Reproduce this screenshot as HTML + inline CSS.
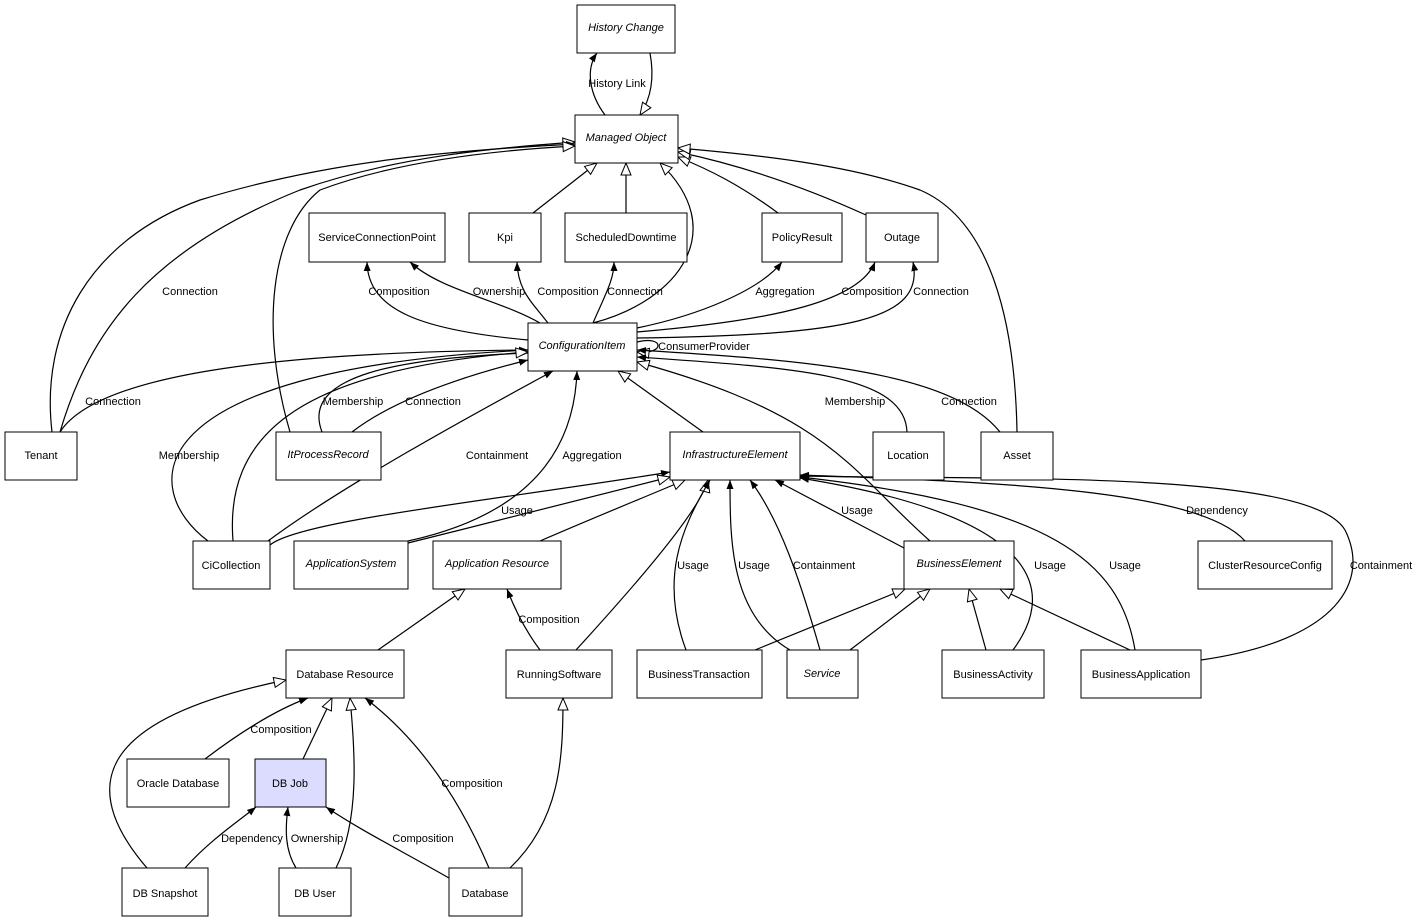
<!DOCTYPE html>
<html><head><meta charset="utf-8"><style>
body{margin:0;background:#fff}
svg{display:block}
text{font-family:"Liberation Sans",Arial,sans-serif;font-size:11px;fill:#000}
.n{fill:#fff;stroke:#000;stroke-width:1}
.e{fill:none;stroke:#000;stroke-width:1.2}
</style></head><body>
<svg width="1419" height="924" viewBox="0 0 1419 924">
<defs>
<marker id="h" markerWidth="14" markerHeight="12" refX="13" refY="6" orient="auto" markerUnits="userSpaceOnUse"><path d="M1,1 L13,6 L1,11 Z" fill="#fff" stroke="#000"/></marker>
<marker id="f" markerWidth="10" markerHeight="8" refX="9" refY="4" orient="auto" markerUnits="userSpaceOnUse"><path d="M0,0.5 L9,4 L0,7.5 Z" fill="#000"/></marker>
</defs>
<g class="e">
<path d="M605,115 C590,95 585,70 597,53" marker-end="url(#f)"/>
<path d="M650,53 C655,80 650,100 640,115" marker-end="url(#h)"/>
<path d="M533,213 L597,163" marker-end="url(#h)"/>
<path d="M626,213 L626,163" marker-end="url(#h)"/>
<path d="M778,213 C740,185 710,170 678,157" marker-end="url(#h)"/>
<path d="M866,215 C800,185 740,165 678,152" marker-end="url(#h)"/>
<path d="M1017,432 C1015,320 990,220 920,190 C850,165 760,155 678,148" marker-end="url(#h)"/>
<path d="M593,323 C680,300 730,230 660,163" marker-end="url(#h)"/>
<path d="M60,432 C90,330 150,250 300,190 C400,155 500,148 575,142" marker-end="url(#h)"/>
<path d="M52,432 C40,330 90,240 200,200 C330,160 460,150 575,144" marker-end="url(#f)"/>
<path d="M290,432 C260,330 270,230 320,190 C400,160 500,150 575,146" marker-end="url(#h)"/>
<path d="M528,340 C420,330 368,310 367,262" marker-end="url(#f)"/>
<path d="M540,323 C500,300 440,290 410,262" marker-end="url(#f)"/>
<path d="M548,323 C530,300 518,290 517,262" marker-end="url(#f)"/>
<path d="M593,323 C605,295 614,280 614,262" marker-end="url(#f)"/>
<path d="M637,328 C700,315 760,290 782,262" marker-end="url(#f)"/>
<path d="M637,332 C780,320 860,300 875,262" marker-end="url(#f)"/>
<path d="M637,338 C850,335 925,320 913,262" marker-end="url(#f)"/>
<path d="M637,342 C665,335 665,355 637,352" marker-end="url(#h)"/>
<path d="M60,432 C100,370 300,352 528,350" marker-end="url(#f)"/>
<path d="M352,432 C400,395 480,372 528,360" marker-end="url(#f)"/>
<path d="M322,432 C300,375 400,358 528,353" marker-end="url(#f)"/>
<path d="M208,541 C140,490 130,370 528,350" marker-end="url(#f)"/>
<path d="M233,541 C225,440 290,370 528,352" marker-end="url(#h)"/>
<path d="M268,541 C350,480 500,400 553,371" marker-end="url(#f)"/>
<path d="M408,541 C550,510 575,430 577,371" marker-end="url(#f)"/>
<path d="M703,432 L618,371" marker-end="url(#h)"/>
<path d="M907,432 C905,375 800,368 637,357" marker-end="url(#f)"/>
<path d="M1000,432 C950,370 800,360 637,350" marker-end="url(#f)"/>
<path d="M930,541 C850,470 830,415 637,362" marker-end="url(#h)"/>
<path d="M270,545 C300,520 500,500 670,472" marker-end="url(#f)"/>
<path d="M408,543 C500,520 600,495 670,477" marker-end="url(#h)"/>
<path d="M540,541 C600,515 650,495 685,480" marker-end="url(#h)"/>
<path d="M576,650 C640,580 700,510 708,480" marker-end="url(#h)"/>
<path d="M686,650 C660,580 680,530 710,480" marker-end="url(#f)"/>
<path d="M790,650 C730,615 730,540 730,480" marker-end="url(#f)"/>
<path d="M820,650 C800,580 780,520 750,480" marker-end="url(#f)"/>
<path d="M904,548 L775,480" marker-end="url(#f)"/>
<path d="M1013,650 C1050,600 1060,520 800,478" marker-end="url(#f)"/>
<path d="M1135,650 C1120,560 1050,505 800,477" marker-end="url(#f)"/>
<path d="M1201,660 C1340,640 1370,580 1345,530 C1310,470 1000,480 800,476" marker-end="url(#f)"/>
<path d="M1245,541 C1200,490 1000,482 800,475" marker-end="url(#f)"/>
<path d="M755,650 L905,589" marker-end="url(#h)"/>
<path d="M850,650 L930,589" marker-end="url(#h)"/>
<path d="M986,650 L969,589" marker-end="url(#h)"/>
<path d="M1130,650 L1000,589" marker-end="url(#h)"/>
<path d="M378,650 L465,589" marker-end="url(#h)"/>
<path d="M540,650 C525,630 515,610 507,589" marker-end="url(#f)"/>
<path d="M205,759 C230,740 270,712 308,698" marker-end="url(#f)"/>
<path d="M303,759 L332,698" marker-end="url(#h)"/>
<path d="M336,868 C360,820 355,750 350,698" marker-end="url(#h)"/>
<path d="M147,868 C80,790 90,720 286,680" marker-end="url(#h)"/>
<path d="M489,868 C460,800 420,740 365,698" marker-end="url(#f)"/>
<path d="M510,868 C560,820 563,760 563,698" marker-end="url(#h)"/>
<path d="M185,868 C210,840 240,820 256,807" marker-end="url(#f)"/>
<path d="M296,868 C285,850 285,830 288,807" marker-end="url(#f)"/>
<path d="M449,878 C400,850 360,830 326,807" marker-end="url(#f)"/>
</g>
<g>
<rect class="n" x="577" y="5" width="98" height="48"/>
<rect class="n" x="575" y="115" width="103" height="48"/>
<rect class="n" x="309" y="213" width="136" height="49"/>
<rect class="n" x="469" y="213" width="72" height="49"/>
<rect class="n" x="565" y="213" width="122" height="49"/>
<rect class="n" x="762" y="213" width="80" height="49"/>
<rect class="n" x="866" y="213" width="72" height="49"/>
<rect class="n" x="528" y="323" width="109" height="48"/>
<rect class="n" x="5" y="432" width="72" height="48"/>
<rect class="n" x="276" y="432" width="105" height="48"/>
<rect class="n" x="670" y="432" width="130" height="48"/>
<rect class="n" x="873" y="432" width="71" height="48"/>
<rect class="n" x="981" y="432" width="72" height="48"/>
<rect class="n" x="193" y="541" width="77" height="48"/>
<rect class="n" x="294" y="541" width="114" height="48"/>
<rect class="n" x="433" y="541" width="128" height="48"/>
<rect class="n" x="904" y="541" width="110" height="48"/>
<rect class="n" x="1198" y="541" width="134" height="48"/>
<rect class="n" x="286" y="650" width="118" height="48"/>
<rect class="n" x="506" y="650" width="106" height="48"/>
<rect class="n" x="637" y="650" width="125" height="48"/>
<rect class="n" x="787" y="650" width="71" height="48"/>
<rect class="n" x="942" y="650" width="102" height="48"/>
<rect class="n" x="1081" y="650" width="120" height="48"/>
<rect class="n" x="127" y="759" width="102" height="48"/>
<rect class="n" x="255" y="759" width="71" height="48" style="fill:#dcdcff"/>
<rect class="n" x="122" y="868" width="86" height="48"/>
<rect class="n" x="279" y="868" width="72" height="48"/>
<rect class="n" x="449" y="868" width="73" height="48"/>
</g>
<g text-anchor="middle">
<text x="626" y="31" font-style="italic">History Change</text>
<text x="626" y="141" font-style="italic">Managed Object</text>
<text x="377" y="241">ServiceConnectionPoint</text>
<text x="505" y="241">Kpi</text>
<text x="626" y="241">ScheduledDowntime</text>
<text x="802" y="241">PolicyResult</text>
<text x="902" y="241">Outage</text>
<text x="582" y="349" font-style="italic">ConfigurationItem</text>
<text x="41" y="459">Tenant</text>
<text x="328" y="458" font-style="italic">ItProcessRecord</text>
<text x="735" y="458" font-style="italic">InfrastructureElement</text>
<text x="908" y="459">Location</text>
<text x="1017" y="459">Asset</text>
<text x="231" y="569">CiCollection</text>
<text x="351" y="567" font-style="italic">ApplicationSystem</text>
<text x="497" y="567" font-style="italic">Application Resource</text>
<text x="959" y="567" font-style="italic">BusinessElement</text>
<text x="1265" y="569">ClusterResourceConfig</text>
<text x="345" y="678">Database Resource</text>
<text x="559" y="678">RunningSoftware</text>
<text x="699" y="678">BusinessTransaction</text>
<text x="822" y="677" font-style="italic">Service</text>
<text x="993" y="678">BusinessActivity</text>
<text x="1141" y="678">BusinessApplication</text>
<text x="178" y="787">Oracle Database</text>
<text x="290" y="787">DB Job</text>
<text x="165" y="897">DB Snapshot</text>
<text x="315" y="897">DB User</text>
<text x="485" y="897">Database</text>
</g>
<g text-anchor="middle">
<text x="617" y="87">History Link</text>
<text x="190" y="295">Connection</text>
<text x="399" y="295">Composition</text>
<text x="499" y="295">Ownership</text>
<text x="568" y="295">Composition</text>
<text x="635" y="295">Connection</text>
<text x="785" y="295">Aggregation</text>
<text x="872" y="295">Composition</text>
<text x="941" y="295">Connection</text>
<text x="704" y="350">ConsumerProvider</text>
<text x="113" y="405">Connection</text>
<text x="353" y="405">Membership</text>
<text x="433" y="405">Connection</text>
<text x="855" y="405">Membership</text>
<text x="969" y="405">Connection</text>
<text x="189" y="459">Membership</text>
<text x="497" y="459">Containment</text>
<text x="592" y="459">Aggregation</text>
<text x="517" y="514">Usage</text>
<text x="857" y="514">Usage</text>
<text x="1217" y="514">Dependency</text>
<text x="693" y="569">Usage</text>
<text x="754" y="569">Usage</text>
<text x="824" y="569">Containment</text>
<text x="1050" y="569">Usage</text>
<text x="1125" y="569">Usage</text>
<text x="1381" y="569">Containment</text>
<text x="549" y="623">Composition</text>
<text x="281" y="733">Composition</text>
<text x="472" y="787">Composition</text>
<text x="252" y="842">Dependency</text>
<text x="317" y="842">Ownership</text>
<text x="423" y="842">Composition</text>
</g>
</svg>
</body></html>
